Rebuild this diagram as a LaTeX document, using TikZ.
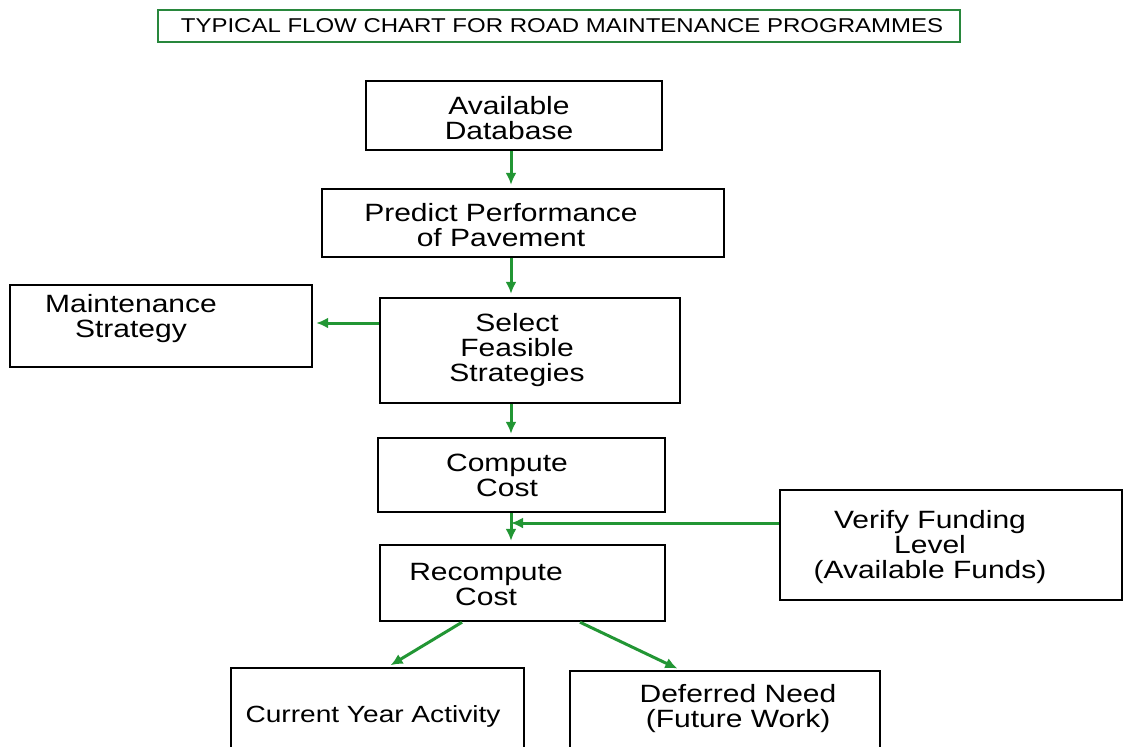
\documentclass[tikz,border=0pt]{standalone}
\usepackage{fontspec}
\setmainfont{Liberation Sans}[FakeStretch=1.2]
\usetikzlibrary{arrows.meta,fit}
\definecolor{flowgreen}{RGB}{34,150,52}
\definecolor{titlegreen}{RGB}{40,135,60}
\begin{document}
\begin{tikzpicture}[x=0.5pt,y=-0.5pt,
  box/.style={draw=black, line width=1.2pt, rectangle, inner sep=0pt},
  lbl/.style={align=center, font=\fontsize{12.5}{12.5}\selectfont, inner sep=0pt},
  flow/.style={draw=flowgreen, line width=1.5pt, -{Latex[length=6pt,width=5.5pt]}, shorten >=1.5pt},
]
\useasboundingbox (0,0) rectangle (1127,746);
\clip (0,0) rectangle (1127,746);

% title
\node[draw=titlegreen, line width=1pt, inner sep=0pt, fit={(158,10) (960,42)}] (title) {};
\node[inner sep=0pt, font=\fontsize{10}{10}\selectfont] (titlet) at (562,26) {TYPICAL FLOW CHART FOR ROAD MAINTENANCE PROGRAMMES};

% boxes
\node[box, fit={(366,81) (662,150)}] (db) {};
\node[box, fit={(322,189) (724,257)}] (pred) {};
\node[box, fit={(10,285) (312,367)}] (maint) {};
\node[box, fit={(380,298) (680,403)}] (sel) {};
\node[box, fit={(378,438) (665,512)}] (comp) {};
\node[box, fit={(780,490) (1122,600)}] (ver) {};
\node[box, fit={(380,545) (665,621)}] (rec) {};
\node[box, fit={(231,668) (524,770)}] (cur) {};
\node[box, fit={(570,671) (880,770)}] (defr) {};

% labels
\node[lbl] (dbt) at (509,118) {Available\\Database};
\node[lbl] (predt) at (501,225) {Predict Performance\\of Pavement};
\node[lbl] (maintt) at (131,319) {Maintenance\\Strategy};
\node[lbl] (selt) at (517,350) {Select\\Feasible\\Strategies};
\node[lbl] (compt) at (507,475) {Compute\\Cost};
\node[lbl] (vert) at (930,547) {Verify Funding\\Level\\(Available Funds)};
\node[lbl] (rect) at (486,585) {Recompute\\Cost};
\node[lbl, font=\fontsize{11.7}{11.7}\selectfont] (curt) at (373,716) {Current Year Activity};
\node[lbl] (defrt) at (738,709) {Deferred Need\\(Future Work)};

% connector guides
\coordinate (spine) at (511,0);
\coordinate (yms) at (0,323);
\coordinate (yfund) at (0,523);
\coordinate (recl) at (462,0);
\coordinate (recr) at (580,0);
\coordinate (curx) at (388,0);
\coordinate (defx) at (680,0);

% connectors
\draw[flow] (db.south -| spine) -- (pred.north -| spine);
\draw[flow] (pred.south -| spine) -- (sel.north -| spine);
\draw[flow] (sel.west |- yms) -- (maint.east |- yms);
\draw[flow] (sel.south -| spine) -- (comp.north -| spine);
\draw[flow] (comp.south -| spine) -- (rec.north -| spine);
\draw[flow, shorten >=0pt] (ver.west |- yfund) -- (spine |- yfund);
\draw[flow] (rec.south -| recl) -- (cur.north -| curx);
\draw[flow] (rec.south -| recr) -- (defr.north -| defx);
\end{tikzpicture}
\end{document}
